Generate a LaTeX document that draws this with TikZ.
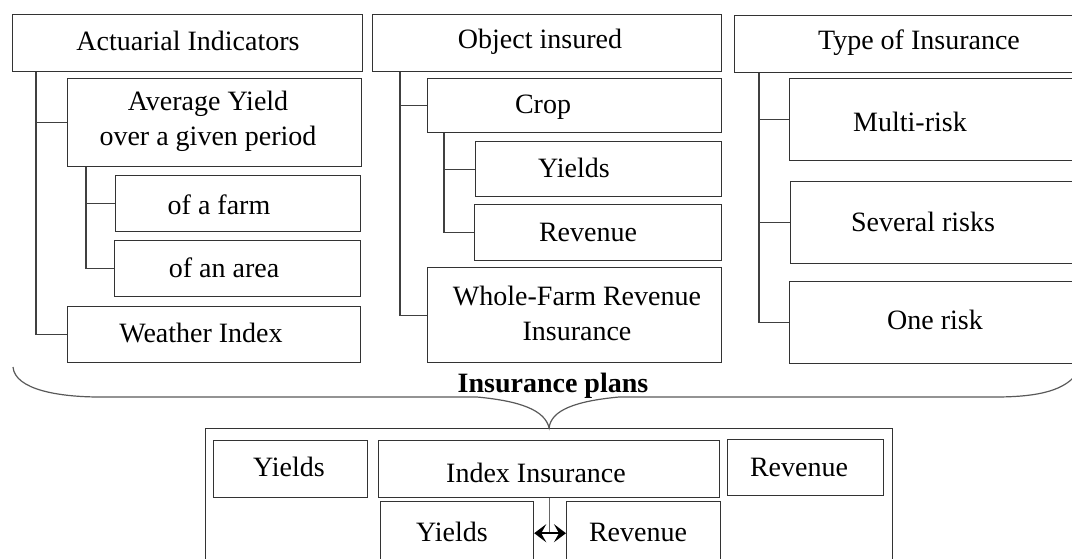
\documentclass[tikz,border=0pt]{standalone}
\usepackage{fontspec}
\setmainfont{Liberation Serif}
\usetikzlibrary{arrows.meta,calc}
\begin{document}
\begin{tikzpicture}[x=1pt,y=-1pt,
  bx/.style={draw=black!80, line width=1.2pt, inner sep=0pt, anchor=north west},
  tx/.style={inner sep=0pt, font=\fontsize{28}{35}\selectfont, align=center, text=black},
  conn/.style={draw=black!75, line width=1.2pt},
  brace/.style={draw=black!65, line width=1.2pt},
  dbl/.style={draw=black, line width=1.6pt, {Stealth[length=12pt,width=18pt,inset=5pt]}-{Stealth[length=12pt,width=18pt,inset=5pt]}}]
\useasboundingbox (0,0) rectangle (1072,558);
\clip (0,0) rectangle (1072,558);
% column 1
\node[bx, minimum width=350pt, minimum height=57pt] (ai) at (12,14) {};
\node[bx, minimum width=294pt, minimum height=88pt] (ay) at (67,78) {};
\node[bx, minimum width=245pt, minimum height=56pt] (farm) at (115,175) {};
\node[bx, minimum width=246pt, minimum height=56pt] (area) at (114,240) {};
\node[bx, minimum width=293pt, minimum height=56pt] (wi) at (67,306) {};
\node[tx] (tai) at (188,41) {Actuarial Indicators};
\node[tx] (tay) at (208,121) {Average Yield\\over a given period};
\node[tx] (tfarm) at (219,205) {of a farm};
\node[tx] (tarea) at (224,268) {of an area};
\node[tx] (twi) at (201,333) {Weather Index};
\draw[conn] (ai.south west) ++(24,0) coordinate (t1) |- (wi.west);
\draw[conn] (t1 |- ay.west) -- (ay.west);
\draw[conn] (ay.south west) ++(19,0) coordinate (t2) |- (area.west);
\draw[conn] (t2 |- farm.west) -- (farm.west);
% column 2
\node[bx, minimum width=349pt, minimum height=57pt] (oi) at (372,14) {};
\node[bx, minimum width=294pt, minimum height=54pt] (crop) at (427,78) {};
\node[bx, minimum width=246pt, minimum height=55pt] (yl) at (475,141) {};
\node[bx, minimum width=247pt, minimum height=56pt] (rv) at (474,204) {};
\node[bx, minimum width=294pt, minimum height=95pt] (wf) at (427,267) {};
\node[tx] (toi) at (540,42) {Object insured};
\node[tx] (tcrop) at (543,107) {Crop};
\node[tx] (tyl) at (574,168) {Yields};
\node[tx] (trv) at (588,232) {Revenue};
\node[tx] (twf) at (577,313) {Whole-Farm Revenue\\Insurance};
\draw[conn] (oi.south west) ++(28,0) coordinate (t3) |- (wf.west);
\draw[conn] (t3 |- crop.west) -- (crop.west);
\draw[conn] (crop.south west) ++(17,0) coordinate (t4) |- (rv.west);
\draw[conn] (t4 |- yl.west) -- (yl.west);
% column 3
\node[bx, minimum width=370pt, minimum height=57pt] (ti) at (734,15) {};
\node[bx, minimum width=315pt, minimum height=82pt] (mr) at (789,78) {};
\node[bx, minimum width=314pt, minimum height=82pt] (sr) at (790,181) {};
\node[bx, minimum width=315pt, minimum height=82pt] (onr) at (789,281) {};
\node[tx] (tti) at (919,43) {Type of Insurance};
\node[tx] (tmr) at (910,122) {Multi-risk};
\node[tx] (tsr) at (923,222) {Several risks};
\node[tx] (tor) at (935,320) {One risk};
\draw[conn] (ti.south west) ++(25,0) coordinate (t5) |- (onr.west);
\draw[conn] (t5 |- mr.west) -- (mr.west);
\draw[conn] (t5 |- sr.west) -- (sr.west);
% bottom
\node[bx, minimum width=687pt, minimum height=172pt] (outer) at (205,428) {};
\node[bx, minimum width=154pt, minimum height=57pt] (by) at (213,440) {};
\node[bx, minimum width=341pt, minimum height=57pt] (ii) at (378,440) {};
\node[bx, minimum width=156pt, minimum height=56pt] (br) at (727,439) {};
\node[bx, minimum width=153pt, minimum height=80pt] (y2) at (380,501) {};
\node[bx, minimum width=154pt, minimum height=80pt] (r2) at (566,501) {};
\node[tx] (tby) at (289,467) {Yields};
\node[tx] (tii) at (536,473) {Index Insurance};
\node[tx] (tbr) at (799,467) {Revenue};
\node[tx] (ty2) at (452,532) {Yields};
\node[tx] (tr2) at (638,532) {Revenue};
\coordinate (ar) at ($(ii.south)+(0,35)$);
\draw[conn, draw=black!60] (ii.south) -- (ar);
\draw[dbl] (y2.east |- ar) -- (r2.west |- ar);
% brace
\draw[brace] (13,367) .. controls (15,390) and (60,397) .. (100,397) -- (477,397)
  .. controls (520,401) and (545,410) .. (outer.north)
  .. controls (551,410) and (576,401) .. (619,397) -- (995,397)
  .. controls (1040,397) and (1066,390) .. (1078,372);
\node[tx, font=\fontsize{28}{35}\selectfont\bfseries] (tip) at (553,386) {Insurance plans};
\end{tikzpicture}
\end{document}
